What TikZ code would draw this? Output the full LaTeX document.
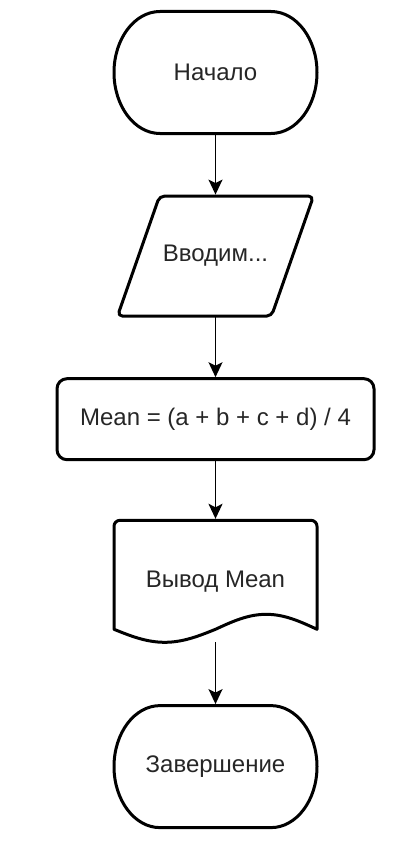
\documentclass[tikz,border=0pt]{standalone}
\usepackage{fontspec}
\setmainfont{Liberation Sans}
\usetikzlibrary{positioning,arrows.meta,calc}

\tikzset{
  blk/.style={outer sep=0pt, align=center, text=black!85,
    font=\fontsize{24}{28}\selectfont},
  term/.style={blk, minimum width=203pt, minimum height=122pt},
  inbox/.style={blk, minimum width=196pt, minimum height=120pt},
  procbox/.style={blk, draw, line width=3pt, minimum width=317pt, minimum height=81pt, rounded corners=10pt},
  docbox/.style={blk, minimum width=203pt, minimum height=122pt},
  outline/.style={line width=3pt, line join=round},
  flow/.style={-{Stealth[length=15pt,width=14pt,inset=3.5pt]}, line width=1.8pt, shorten >=1.5pt},
}

\begin{document}
\begin{tikzpicture}[x=1pt, y=1pt]
  \useasboundingbox (0,0) rectangle (402,-851);

  \node[term] (start) at (215.5,-72.5) {Начало};
  \node[inbox, below=62.6pt of start] (in) {Вводим...};
  \node[procbox, below=62.6pt of in] (calc) {Mean = (a + b + c + d) / 4};
  \node[docbox, below=60.6pt of calc] (out) {Вывод Mean};
  \node[term, below=63.3pt of out] (end) {Завершение};

  % terminals
  \foreach \n in {start,end}
    \draw[outline] ([xshift=46pt]\n.north west) -- ([xshift=-46pt]\n.north east)
      arc[start angle=90, end angle=-90, x radius=46pt, y radius=61pt]
      -- ([xshift=46pt]\n.south west)
      arc[start angle=270, end angle=90, x radius=46pt, y radius=61pt] -- cycle;

  % input parallelogram
  \draw[outline, rounded corners=5pt] ([xshift=42pt]in.north west) -- (in.north east)
    -- ([xshift=-42pt]in.south east) -- (in.south west) -- cycle;

  % document with wavy bottom
  \draw[outline] ([yshift=13pt]out.south east)
    sin ++(-50.75,15) cos ++(-50.75,-15) sin ++(-50.75,-13) cos ++(-50.75,13)
    [rounded corners=6pt] -- (out.north west) -- (out.north east) [sharp corners] -- cycle;

  \draw[flow] (start) -- (in);
  \draw[flow] (in) -- (calc);
  \draw[flow] (calc) -- (out);
  \draw[flow] (out) -- (end);
\end{tikzpicture}
\end{document}
